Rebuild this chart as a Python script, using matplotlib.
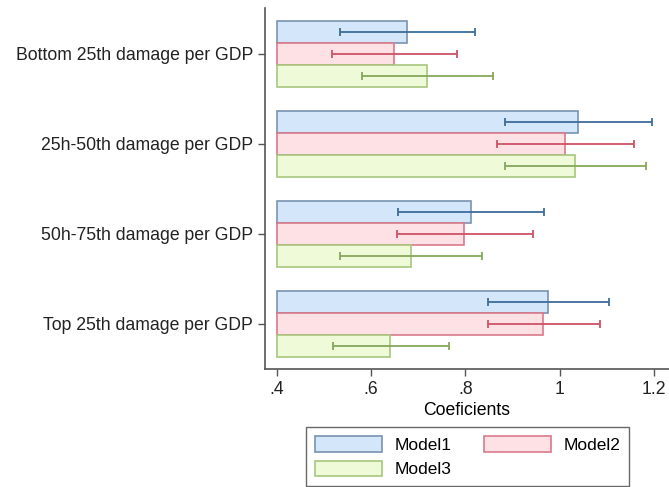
import matplotlib.pyplot as plt
import numpy as np

plt.rcParams["font.family"] = ["Liberation Sans", "DejaVu Sans"]

categories = [
    "Bottom 25th damage per GDP",
    "25h-50th damage per GDP",
    "50h-75th damage per GDP",
    "Top 25th damage per GDP",
]
models = ["Model1", "Model2", "Model3"]

coef_m1 = [0.676, 1.039, 0.812, 0.975]
low_m1 = [0.534, 0.884, 0.657, 0.848]
high_m1 = [0.820, 1.196, 0.967, 1.105]

coef_m2 = [0.648, 1.012, 0.797, 0.965]
low_m2 = [0.517, 0.867, 0.654, 0.847]
high_m2 = [0.782, 1.158, 0.944, 1.086]

coef_m3 = [0.719, 1.033, 0.684, 0.640]
low_m3 = [0.580, 0.884, 0.534, 0.518]
high_m3 = [0.859, 1.183, 0.835, 0.765]

xticks = [0.4, 0.6, 0.8, 1.0, 1.2]
xtick_labels = [".4", ".6", ".8", "1", "1.2"]

base = 0.4
fills = ["#d4e7fa", "#fde1e5", "#effad9"]
edges = ["#7893b0", "#d9798a", "#a8c67e"]
errc = ["#3d6c9c", "#cf5166", "#86a85a"]

fig = plt.figure(figsize=(6.69, 4.87), dpi=100)
ax = fig.add_axes([0.396, 0.2423, 0.604, 0.7413])

y = np.arange(len(categories))
h = 0.245
offsets = [-h, 0, h]
series = [(coef_m1, low_m1, high_m1), (coef_m2, low_m2, high_m2), (coef_m3, low_m3, high_m3)]

handles = []
for i, (coef, lo, hi) in enumerate(series):
    coef = np.array(coef)
    pos = y + offsets[i]
    b = ax.barh(pos, coef - base, left=base, height=h, color=fills[i],
                edgecolor=edges[i], linewidth=1.2, label=models[i])
    handles.append(b)
    mid = (np.array(lo) + np.array(hi)) / 2
    half = (np.array(hi) - np.array(lo)) / 2
    ax.errorbar(mid, pos, xerr=half, fmt="none", ecolor=errc[i],
                elinewidth=1.3, capsize=3, capthick=1.3)

ax.set_xlim(0.3745, 1.232)
ax.set_ylim(3.5, -0.51)
ax.set_yticks(y)
ax.set_yticklabels(categories, fontsize=12.7)
ax.set_xticks(xticks)
ax.set_xticklabels(xtick_labels, fontsize=12.7)
ax.set_xlabel("Coeficients", fontsize=12.7, labelpad=3)

for s in ["top", "right"]:
    ax.spines[s].set_visible(False)
for s in ["left", "bottom"]:
    ax.spines[s].set_color("#555555")
    ax.spines[s].set_linewidth(1.2)
ax.tick_params(axis="both", length=5, width=1, color="#555555", colors="#222222")

leg = fig.legend([handles[0], handles[2], handles[1]], ["Model1", "Model3", "Model2"],
                 ncol=2, loc="lower left", bbox_to_anchor=(306 / 669, 1 / 487),
                 borderaxespad=0, fontsize=12.5, frameon=True, fancybox=False,
                 edgecolor="#444444", handlelength=3.85, handleheight=1.0,
                 handletextpad=0.75, columnspacing=1.85,
                 borderpad=0.5, labelspacing=0.45)
leg.get_frame().set_linewidth(1.0)

fig.savefig("out.png", dpi=100)
